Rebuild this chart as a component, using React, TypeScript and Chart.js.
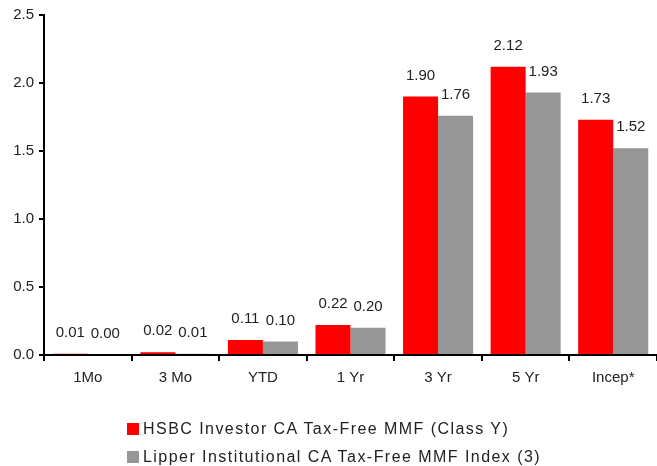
import React, { useEffect, useRef } from "react";
import { Chart, registerables } from "chart.js";

Chart.register(...registerables);

const categories = ["1Mo", "3 Mo", "YTD", "1 Yr", "3 Yr", "5 Yr", "Incep*"];
const hsbcValues = [0.01, 0.02, 0.11, 0.22, 1.9, 2.12, 1.73];
const lipperValues = [0.0, 0.01, 0.1, 0.2, 1.76, 1.93, 1.52];
const seriesNames = [
  "HSBC Investor CA Tax-Free MMF (Class Y)",
  "Lipper Institutional CA Tax-Free MMF Index (3)",
];
const seriesColors = ["#FF0000", "#969696"];
const yTicks = [0, 0.5, 1.0, 1.5, 2.0, 2.5];

const FONT = "'Liberation Sans', Arial, sans-serif";

const valueLabels = {
  id: "valueLabels",
  afterDatasetsDraw(chart: any) {
    const ctx = chart.ctx;
    ctx.save();
    ctx.font = `15px ${FONT}`;
    ctx.fillStyle = "#222";
    ctx.textAlign = "center";
    ctx.textBaseline = "middle";
    chart.data.datasets.forEach((ds: any, di: number) => {
      const meta = chart.getDatasetMeta(di);
      meta.data.forEach((bar: any, i: number) => {
        const v = ds.data[i] as number;
        ctx.fillText(v.toFixed(2), bar.x, bar.y - 21);
      });
    });
    ctx.restore();
  },
};

export default function App() {
  const ref = useRef<HTMLCanvasElement | null>(null);
  useEffect(() => {
    if (!ref.current) return;
    const chart = new Chart(ref.current, {
      type: "bar",
      data: {
        labels: categories,
        datasets: [
          {
            label: seriesNames[0],
            data: hsbcValues,
            backgroundColor: seriesColors[0],
            categoryPercentage: 0.8,
            barPercentage: 1.0,
          },
          {
            label: seriesNames[1],
            data: lipperValues,
            backgroundColor: seriesColors[1],
            categoryPercentage: 0.8,
            barPercentage: 1.0,
          },
        ],
      },
      options: {
        animation: false,
        responsive: false,
        maintainAspectRatio: false,
        layout: { padding: { top: 15, right: 0, bottom: 71, left: 0 } },
        plugins: {
          legend: { display: false },
          tooltip: { enabled: false },
        },
        scales: {
          x: {
            offset: true,
            grid: {
              offset: true,
              drawOnChartArea: false,
              drawTicks: true,
              tickLength: 6,
              color: "#000",
              lineWidth: 2,
            },
            border: { color: "#000", width: 2 },
            ticks: {
              color: "#222",
              font: { family: FONT, size: 15 },
              padding: 8,
            },
          },
          y: {
            min: 0,
            max: 2.5,
            afterBuildTicks: (axis: any) => {
              axis.ticks = yTicks.map((v) => ({ value: v }));
            },
            afterFit: (axis: any) => {
              axis.width = 44;
            },
            grid: {
              drawOnChartArea: false,
              drawTicks: true,
              tickLength: 5,
              color: "#000",
              lineWidth: 2,
            },
            border: { color: "#000", width: 2 },
            ticks: {
              color: "#222",
              font: { family: FONT, size: 15 },
              padding: 5,
              callback: (v: any) => Number(v).toFixed(1),
            },
          },
        },
      },
      plugins: [valueLabels],
    });
    return () => chart.destroy();
  }, []);

  return (
    <div
      style={{
        position: "fixed",
        left: 0,
        top: 0,
        width: 657,
        height: 466,
        background: "#fff",
        fontFamily: FONT,
      }}
    >
      <canvas ref={ref} width={657} height={466} style={{ display: "block" }} />
      <div style={{ position: "absolute", left: 127, top: 415 }}>
        {seriesNames.map((name, i) => (
          <div
            key={name}
            style={{
              display: "flex",
              alignItems: "center",
              height: 28,
              fontSize: 16,
              color: "#222",
              letterSpacing: 1.45,
              whiteSpace: "nowrap",
            }}
          >
            <span
              style={{
                display: "inline-block",
                width: 12,
                height: 12,
                background: seriesColors[i],
                marginRight: 4,
              }}
            />
            {name}
          </div>
        ))}
      </div>
    </div>
  );
}
